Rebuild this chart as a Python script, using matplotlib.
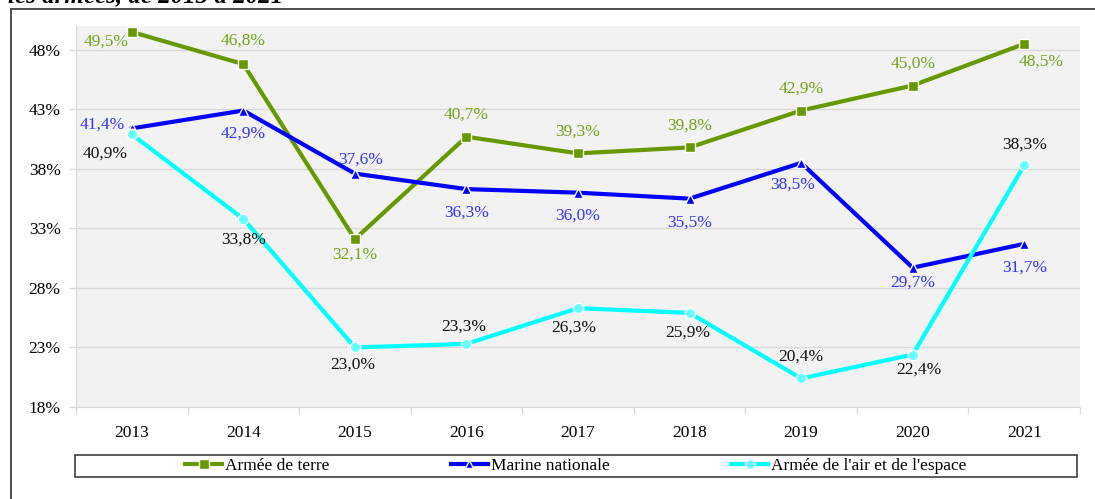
import matplotlib.pyplot as plt
from matplotlib.lines import Line2D
from matplotlib.patches import Rectangle

plt.rcParams['font.family'] = ['Liberation Serif', 'DejaVu Serif']

# données
annees = ['2013', '2014', '2015', '2016', '2017', '2018', '2019', '2020', '2021']
terre = [49.5, 46.8, 32.1, 40.7, 39.3, 39.8, 42.9, 45.0, 48.5]
marine = [41.4, 42.9, 37.6, 36.3, 36.0, 35.5, 38.5, 29.7, 31.7]
air = [40.9, 33.8, 23.0, 23.3, 26.3, 25.9, 20.4, 22.4, 38.3]
yticks = [18, 23, 28, 33, 38, 43, 48]

# décalage des étiquettes (pixels)
off_terre = [(-26, -10), (0, 23), (0, -16), (0, 22), (0, 22), (0, 22), (0, 22), (0, 22), (17, -18)]
off_marine = [(-30, 4), (0, -23), (6, 14), (0, -24), (0, -23), (0, -24), (-8, -22), (0, -15), (0, -24)]
off_air = [(-27, -19), (0, -21), (-2, -17), (-3, 17), (-4, -19), (-2, -20), (0, 22), (6, -15), (0, 21)]

fs = 12.5

fig = plt.figure(figsize=(10.95, 4.99), dpi=100)
ax = fig.add_axes([0.0694, 0.1844, 0.9169, 0.7635])
ax.set_facecolor('#f2f2f2')

x = list(range(len(annees)))
ax.plot(x, terre, color='#669900', lw=3, marker='s', ms=7.5, mfc='#669900', mec='white', mew=1, zorder=3)
ax.plot(x, marine, color='#0000ff', lw=3, marker='^', ms=6.5, mfc='#0000ff', mec='white', mew=1, zorder=3)
ax.plot(x, air, color='#00ffff', lw=3, marker='o', ms=7.5, mfc='#66ffff', mec='white', mew=1, zorder=3)

def fr(v):
    return ('%.1f%%' % v).replace('.', ',')

for serie, offs, col in [(terre, off_terre, '#76a31a'), (marine, off_marine, '#3333ff'), (air, off_air, '#111111')]:
    for i, v in enumerate(serie):
        ax.annotate(fr(v), (i, v), xytext=offs[i], textcoords='offset pixels',
                    ha='center', va='center', color=col, fontsize=fs, zorder=4)

ax.set_xlim(-0.5, 8.5)
ax.set_ylim(18, 50)
ax.set_yticks(yticks)
ax.set_yticklabels(['%d%%' % t for t in yticks])
ax.set_xticks(x)
ax.set_xticklabels(annees)
ax.set_xticks([i - 0.5 for i in range(len(annees) + 1)], minor=True)
ax.tick_params(axis='x', which='major', length=0, pad=13, labelsize=fs)
ax.tick_params(axis='x', which='minor', length=5, color='#d9d9d9', width=1)
ax.tick_params(axis='y', length=5, color='#d9d9d9', width=1, pad=6, labelsize=fs)
ax.grid(axis='y', color='#d9d9d9', lw=1)
ax.set_axisbelow(True)
for s in ['top', 'right']:
    ax.spines[s].set_visible(False)
for s in ['left', 'bottom']:
    ax.spines[s].set_color('#d9d9d9')

# légende
handles = [
    Line2D([], [], color='#669900', lw=3, marker='s', ms=7, mfc='#669900', mec='white'),
    Line2D([], [], color='#0000ff', lw=3, marker='^', ms=6, mfc='#0000ff', mec='white'),
    Line2D([], [], color='#00ffff', lw=3, marker='o', ms=7, mfc='#66ffff', mec='white'),
]
noms = ['Armée de terre', 'Marine nationale', "Armée de l'air et de l'espace"]
fig.legend(handles, noms, loc='center', bbox_to_anchor=(0.526, 0.0665), ncol=3, frameon=False,
           fontsize=fs, handlelength=2.1, handletextpad=0.2, columnspacing=7.0)
fig.patches.append(Rectangle((0.0685, 0.0441), 0.915, 0.0441, transform=fig.transFigure,
                             fill=False, ec='#404040', lw=1.2))

# cadre et titre coupé
fig.add_artist(Line2D([0.0101, 1.0], [0.982, 0.982], transform=fig.transFigure, color='#404040', lw=1.3))
fig.add_artist(Line2D([0.0101, 0.0101], [0.0, 0.982], transform=fig.transFigure, color='#404040', lw=1.3))
fig.text(0.007, 0.996, "les armées, de 2013 à 2021", fontsize=18, fontweight='bold', fontstyle='italic',
         va='baseline', ha='left')

plt.savefig('out.png', dpi=100)
